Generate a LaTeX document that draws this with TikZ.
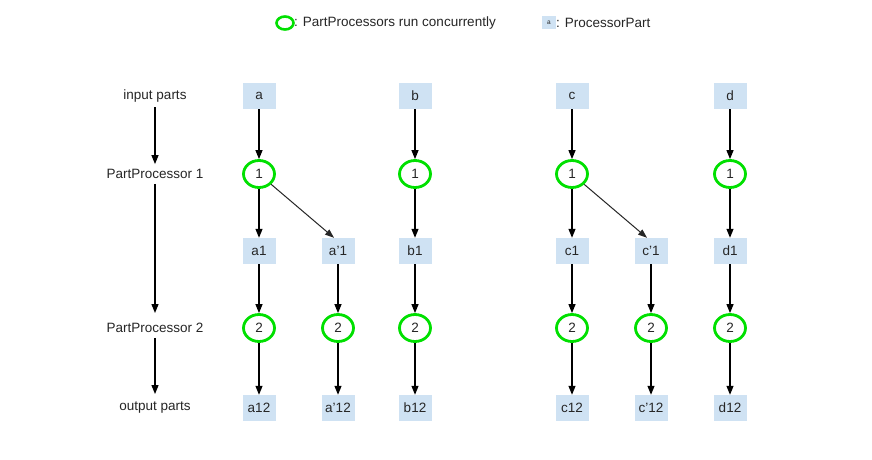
\documentclass[tikz,border=0pt]{standalone}
\usepackage{fontspec}
\setmainfont{Liberation Sans}
\usetikzlibrary{shapes.geometric,arrows.meta}
\definecolor{boxblue}{HTML}{CFE2F3}
\definecolor{ringgreen}{HTML}{00E000}
\definecolor{txt}{HTML}{262626}
\begin{document}
\begin{tikzpicture}[x=1pt,y=-1pt,
  every node/.style={font=\fontsize{13.5}{15}\selectfont,text=txt},
  part/.style={rectangle,fill=boxblue,minimum width=33pt,minimum height=26pt,inner sep=0pt},
  proc/.style={ellipse,draw=ringgreen,line width=2.8pt,minimum width=31pt,minimum height=27pt,inner sep=0pt},
  lab/.style={inner sep=2pt},
  arr/.style={-{Triangle[length=9pt,width=7pt]},line width=1.2pt,black},
  diag/.style={-{Triangle[length=9pt,width=6.5pt]},line width=1pt,black!85}]
\useasboundingbox[fill=white] (0,0) rectangle (872,460);
% legend
\node[ellipse,draw=ringgreen,line width=2.6pt,minimum width=17pt,minimum height=13pt,inner sep=0pt] (lgE) at (285,23) {};
\node[anchor=west,inner sep=0pt] (lgEt) at (294,23) {: PartProcessors run concurrently};
\node[rectangle,fill=boxblue,minimum width=14pt,minimum height=13pt,inner sep=0pt,font=\fontsize{6.5}{7}\selectfont] (lgB) at (549,23) {a};
\node[anchor=west,inner sep=0pt] (lgBt) at (556,23) {: ProcessorPart};
% row labels
\node[lab] (lin) at (155,96) {input parts};
\node[lab] (lp1) at (155,174) {PartProcessor 1};
\node[lab] (lp2) at (155,328) {PartProcessor 2};
\node[lab] (lout) at (155,408) {output parts};
\draw[arr,shorten <=3pt,shorten >=3pt] (lin) -- (lp1);
\draw[arr,shorten <=3pt,shorten >=8pt] (lp1) -- (lp2);
\draw[arr,shorten <=3pt,shorten >=6pt] (lp2) -- (lout);
% inputs
\node[part] (a) at (259,96) {a};
\node[part] (b) at (415,96) {b};
\node[part] (c) at (572,96) {c};
\node[part] (d) at (730,96) {d};
% processor 1
\node[proc] (pa) at (259,174) {1};
\node[proc] (pb) at (415,174) {1};
\node[proc] (pc) at (572,174) {1};
\node[proc] (pd) at (730,174) {1};
% intermediate
\node[part] (a1) at (259,251) {a1};
\node[part] (ap1) at (338,251) {a'1};
\node[part] (b1) at (415,251) {b1};
\node[part] (c1) at (572,251) {c1};
\node[part] (cp1) at (651,251) {c'1};
\node[part] (d1) at (730,251) {d1};
% processor 2
\node[proc] (qa) at (259,328) {2};
\node[proc] (qap) at (338,328) {2};
\node[proc] (qb) at (415,328) {2};
\node[proc] (qc) at (572,328) {2};
\node[proc] (qcp) at (651,328) {2};
\node[proc] (qd) at (730,328) {2};
% outputs
\node[part] (a12) at (259,408) {a12};
\node[part] (ap12) at (338,408) {a'12};
\node[part] (b12) at (415,408) {b12};
\node[part] (c12) at (572,408) {c12};
\node[part] (cp12) at (651,408) {c'12};
\node[part] (d12) at (730,408) {d12};
% arrows
\foreach \s/\t in {a/pa,b/pb,c/pc,d/pd,pa/a1,pb/b1,pc/c1,pd/d1,
  a1/qa,ap1/qap,b1/qb,c1/qc,cp1/qcp,d1/qd,
  qa/a12,qap/ap12,qb/b12,qc/c12,qcp/cp12,qd/d12}
  \draw[arr] (\s) -- (\t);
\draw[diag] (pa) -- ([xshift=-4pt]ap1.north);
\draw[diag] (pc) -- ([xshift=-4pt]cp1.north);
\end{tikzpicture}
\end{document}
